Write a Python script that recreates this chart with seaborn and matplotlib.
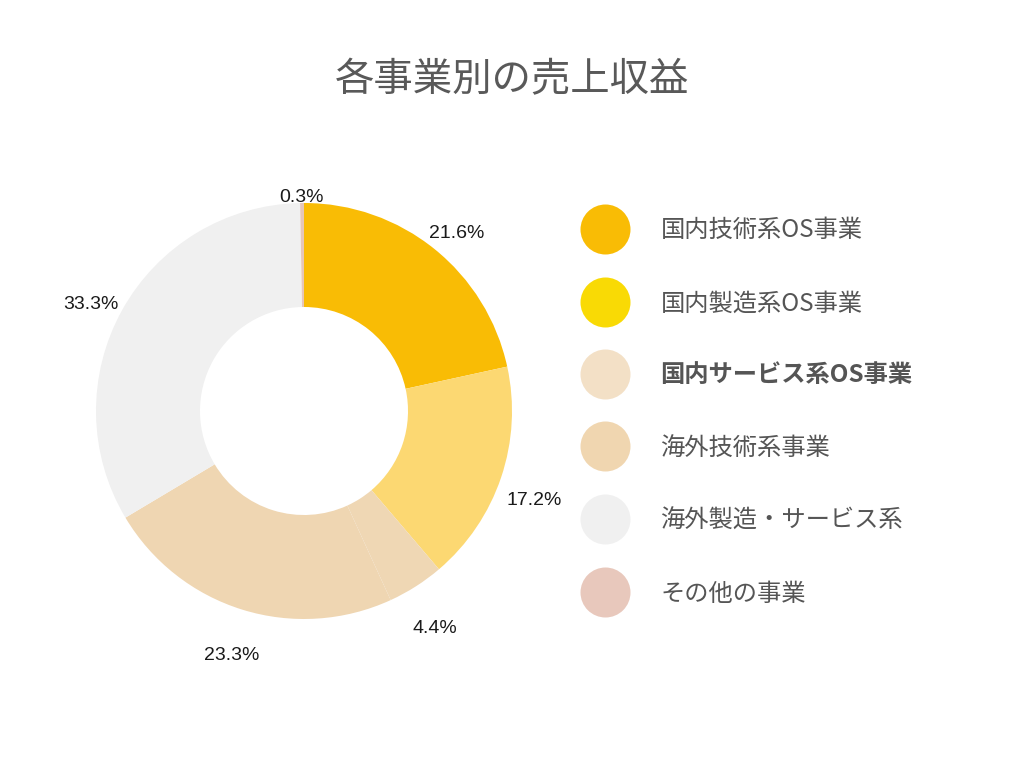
import matplotlib
matplotlib.use("Agg")
import matplotlib.pyplot as plt
import seaborn as sns
from matplotlib.lines import Line2D
import numpy as np

# --- data ---
categories = [
    "国内技術系OS事業",
    "国内製造系OS事業",
    "国内サービス系OS事業",
    "海外技術系事業",
    "海外製造・サービス系",
    "その他の事業",
]
shares = [21.6, 17.2, 4.4, 23.3, 33.3, 0.3]
pie_colors = ["#F9BC05", "#FCD872", "#EFD7B4", "#EFD6B2", "#F0F0F0", "#E6C6BA"]
legend_colors = ["#F9BC05", "#F9DA05", "#F3E0C6", "#F0D6B0", "#F0F0F0", "#E8C8BC"]
highlight = "国内サービス系OS事業"
title = "各事業別の売上収益"

sns.set_theme(style="white")
plt.rcParams["font.family"] = ["Noto Sans CJK JP", "DejaVu Sans"]

fig = plt.figure(figsize=(10.24, 7.68), dpi=100)
ax = fig.add_axes([0, 0, 1, 1])

radius = 208
cx, cy = 304, 357
wedges, _, pct_texts = ax.pie(
    shares,
    colors=pie_colors,
    startangle=90,
    counterclock=False,
    radius=radius,
    center=(cx, cy),
    wedgeprops=dict(width=radius / 2, linewidth=0),
    autopct="%.1f%%",
    pctdistance=1.17,
    textprops=dict(fontsize=14, color="#1a1a1a", family=["Liberation Sans", "DejaVu Sans"]),
    frame=True,
)
ax.set_xlim(0, 1024)
ax.set_ylim(0, 768)
ax.set_aspect("equal")
ax.axis("off")

# labels sit a little lower; tiny slices get their label just above the ring
for w, t, s in zip(wedges, pct_texts, shares):
    x, y = t.get_position()
    if s < 1:
        ang = np.deg2rad((w.theta1 + w.theta2) / 2)
        r = radius * 1.025
        t.set_position((cx + r * np.cos(ang), cy + r * np.sin(ang)))
    else:
        t.set_position((x, y - 12))

fig.text(0.5, 688 / 768, title, ha="center", va="center", fontsize=28.4, color="#595959")

handles = [
    Line2D([], [], marker="o", ls="", markersize=36, markerfacecolor=c, markeredgewidth=0)
    for c in legend_colors
]
leg = fig.legend(
    handles,
    categories,
    loc="center left",
    bbox_to_anchor=(579 / 1024, (768 - 412) / 768),
    frameon=False,
    fontsize=17.5,
    handlelength=2.1,
    handletextpad=1.25,
    labelspacing=1.94,
    borderpad=0,
    borderaxespad=0,
)
for txt in leg.get_texts():
    txt.set_color("#555555")
    if txt.get_text() == highlight:
        txt.set_fontweight("bold")

fig.savefig("out.png", dpi=100)
